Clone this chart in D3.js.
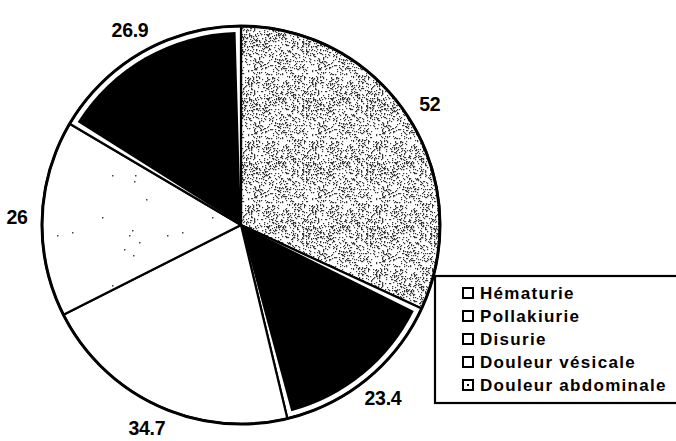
<!DOCTYPE html>
<html>
<head>
<meta charset="utf-8">
<script src="https://cdn.jsdelivr.net/npm/d3@7"></script>
<style>
  body { margin: 0; background: #fff; }
  svg { display: block; }
  text { font-family: "Liberation Sans", Arial, sans-serif; font-weight: bold; fill: #000; }
</style>
</head>
<body>
<svg width="676" height="441"></svg>
<script>
// data (pie order: clockwise from 12 o'clock)
let categories = ["Douleur abdominale", "Douleur vésicale", "Disurie", "Pollakiurie", "Hématurie"];
let values     = [52, 23.4, 34.7, 26, 26.9];
let fills      = ["stipple", "black", "white", "sparse", "black"];
// legend order as in the picture
let legendItems = ["Hématurie", "Pollakiurie", "Disurie", "Douleur vésicale", "Douleur abdominale"];
let legendFills = ["white", "white", "white", "white", "dot"];

let svg = d3.select("svg");
let cx = 241, cy = 225, radius = 199;

// textures (fixed hash, just a grain for the fill)
let defs = svg.append("defs");

function hash(n) {
  n = Math.imul(n ^ (n >>> 16), 0x45d9f3b);
  n = Math.imul(n ^ (n >>> 16), 0x45d9f3b);
  return ((n ^ (n >>> 16)) >>> 0) / 4294967296;
}

function dotPattern(id, size, n, seed, dot, col) {
  let p = defs.append("pattern")
    .attr("id", id).attr("patternUnits", "userSpaceOnUse")
    .attr("width", size).attr("height", size);
  p.append("rect").attr("width", size).attr("height", size).attr("fill", "#fff");
  for (let i = 0; i < n; i++) {
    let x = Math.floor(hash(seed + i * 2) * size);
    let y = Math.floor(hash(seed + i * 2 + 1) * size);
    p.append("rect").attr("x", x).attr("y", y)
      .attr("width", dot).attr("height", dot).attr("fill", col);
  }
}
dotPattern("stipple", 64, 800, 11, 1.2, "#3a3a3a");
dotPattern("sparse", 110, 12, 5, 1.5, "#444");

let pie = d3.pie().sort(null).value(function(d) { return d; });
let arcs = pie(values);

let arc = d3.arc().innerRadius(0).outerRadius(radius);
let innerArc = d3.arc().innerRadius(0).outerRadius(radius - 6)
  .padAngle(0.055).padRadius(radius);
let labelArc = d3.arc().innerRadius(224).outerRadius(224);

let g = svg.append("g").attr("transform", "translate(" + cx + "," + cy + ")");

g.selectAll("path.slice")
  .data(arcs)
  .enter().append("path")
    .attr("class", "slice")
    .attr("d", arc)
    .attr("fill", function(d, i) {
      let f = fills[i];
      return f === "stipple" ? "url(#stipple)" : f === "sparse" ? "url(#sparse)" : "#fff";
    })
    .attr("stroke", "#000")
    .attr("stroke-width", 2.2)
    .attr("stroke-linejoin", "round");

// black slices have a white gap inside their outline
g.selectAll("path.inner")
  .data(arcs.filter(function(d, i) { return fills[i] === "black"; }))
  .enter().append("path")
    .attr("class", "inner")
    .attr("d", innerArc)
    .attr("fill", "#000");

// outer rim a bit heavier
g.append("circle").attr("r", radius).attr("fill", "none")
  .attr("stroke", "#000").attr("stroke-width", 3);

// value labels
g.selectAll("text.val")
  .data(arcs)
  .enter().append("text")
    .attr("class", "val")
    .attr("transform", function(d) { return "translate(" + labelArc.centroid(d) + ")"; })
    .attr("text-anchor", "middle")
    .attr("dy", "0.33em")
    .style("font-size", "19.5px")
    .style("letter-spacing", "-0.3px")
    .text(function(d) { return d.value; });

// legend
let legend = svg.append("g").attr("transform", "translate(435,276)");
legend.append("rect")
  .attr("width", 260).attr("height", 127)
  .attr("fill", "#fff").attr("stroke", "#000").attr("stroke-width", 2.2);

let rows = legend.selectAll("g.item")
  .data(legendItems)
  .enter().append("g")
    .attr("class", "item")
    .attr("transform", function(d, i) { return "translate(28," + (17 + 23 * i) + ")"; });

rows.append("rect")
  .attr("x", 0).attr("y", -5).attr("width", 10).attr("height", 10)
  .attr("fill", "#fff").attr("stroke", "#000").attr("stroke-width", 2);

rows.filter(function(d, i) { return legendFills[i] === "dot"; })
  .append("rect")
    .attr("x", 4).attr("y", -1).attr("width", 2).attr("height", 2).attr("fill", "#000");

rows.append("text")
  .attr("x", 17)
  .attr("dy", "0.36em")
  .style("font-size", "17px")
  .style("letter-spacing", "1.3px")
  .text(function(d) { return d; });
</script>
</body>
</html>
